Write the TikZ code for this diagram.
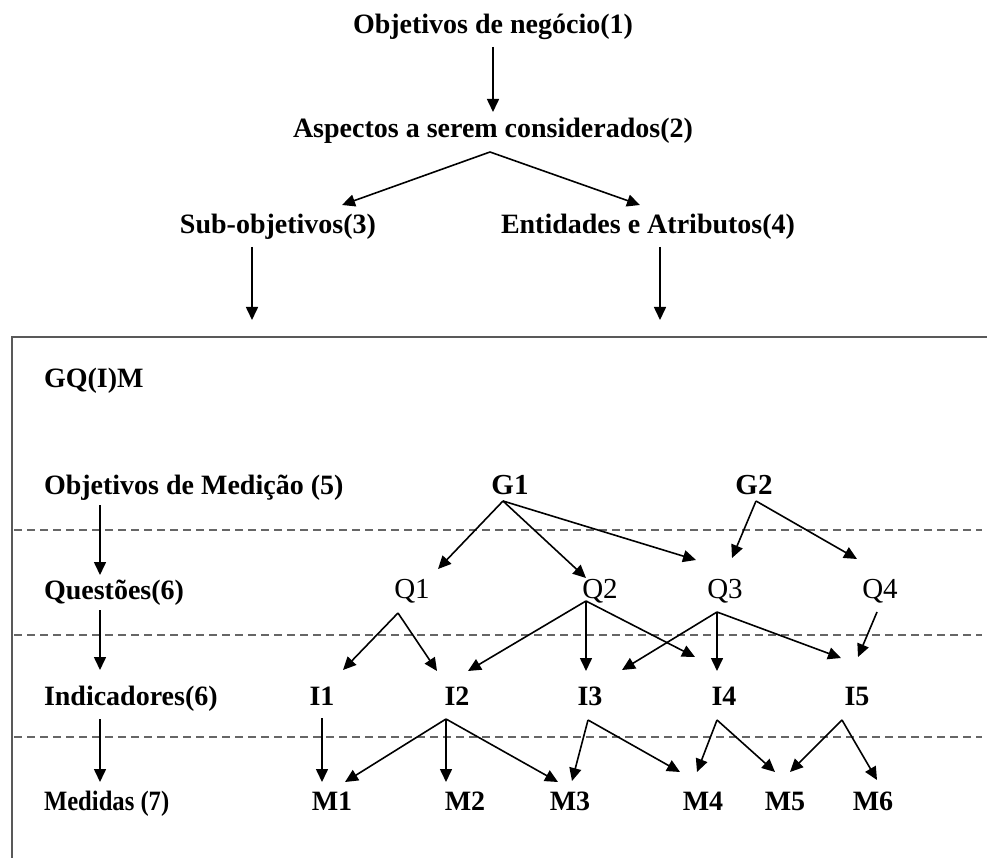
\documentclass[tikz,border=0pt]{standalone}
\usepackage{fontspec}
\setmainfont{Liberation Serif}
\usetikzlibrary{arrows.meta,calc}
\begin{document}
\begin{tikzpicture}[x=1pt,y=-1pt,
  txt/.style={inner sep=0pt, outer sep=0pt, font=\fontsize{28}{32}\selectfont\bfseries},
  hdr/.style={txt, anchor=base},
  lvl/.style={txt, anchor=base west},
  gnode/.style={txt, anchor=base, font=\fontsize{29}{32}\selectfont\bfseries},
  qnode/.style={txt, anchor=base, font=\fontsize{29}{32}\selectfont},
  inode/.style={txt, anchor=base},
  mnode/.style={txt, anchor=base},
  arr/.style={draw=black, line width=1.6pt, -{Triangle[length=13pt,width=12pt]}},
  sepline/.style={draw=black!60, line width=2.2pt, dash pattern=on 8pt off 5pt},
  frame/.style={draw=black!65, line width=2.2pt}
]
\useasboundingbox (0,0) rectangle (987,858);

% ---- upper part: business objectives ----
\node[hdr] (N1) at (493,34) {Objetivos de negócio(1)};
\node[hdr] (N2) at (493,138) {Aspectos a serem considerados(2)};
\node[hdr] (N3) at (278,234) {Sub-objetivos(3)};
\node[hdr] (N4) at (648,234) {Entidades e Atributos(4)};

\coordinate (N2v) at ($(N2.base)+(-3,14)$);
\draw[arr] ($(N1.base)+(0,13)$) -- ($(N2.base)+(0,-26)$);
\draw[arr] (N2v) -- ($(N3.base)+(64,-29)$);
\draw[arr] (N2v) -- ($(N4.base)+(-8,-29)$);
\coordinate (N3in) at ($(N3.base)+(-26,86)$);
\coordinate (N4in) at ($(N4.base)+(12,86)$);
\draw[arr] ($(N3.base)+(-26,13)$) -- (N3in);
\draw[arr] ($(N4.base)+(12,13)$) -- (N4in);

% ---- GQ(I)M frame ----
\coordinate (FTL) at (12,337);
\draw[frame] (987,337) -- (FTL) -- (12,858);
\node[lvl] (T) at (44,387) {GQ(I)M};

% level separators
\draw[sepline] (14,530) -- (982,530);
\draw[sepline] (14,635) -- (982,635);
\draw[sepline] (14,737) -- (982,737);

% level labels
\node[lvl] (L5) at (44,494) {Objetivos de Medição (5)};
\node[lvl] (L6) at (44,599) {Questões(6)};
\node[lvl] (L7) at (44,705) {Indicadores(6)};
\node[lvl] (L8) at (44,810) {\scalebox{0.88}[1]{Medidas (7)}};
\draw[arr] ($(L5.base west)+(56,11)$) -- ($(L6.base west)+(56,-24)$);
\draw[arr] ($(L6.base west)+(56,11)$) -- ($(L7.base west)+(56,-35)$);
\draw[arr] ($(L7.base west)+(56,14)$) -- ($(L8.base west)+(56,-28)$);

% goals
\node[gnode] (G1) at (510,494) {G1};
\node[gnode] (G2) at (754,494) {G2};
% questions
\node[qnode] (Q1) at (412,598) {Q1};
\node[qnode] (Q2) at (600,598) {Q2};
\node[qnode] (Q3) at (725,598) {Q3};
\node[qnode] (Q4) at (880,598) {Q4};
% indicators
\node[inode] (I1) at (322,705) {I1};
\node[inode] (I2) at (457,705) {I2};
\node[inode] (I3) at (590,705) {I3};
\node[inode] (I4) at (724,705) {I4};
\node[inode] (I5) at (857,705) {I5};
% measures
\node[mnode] (M1) at (332,810) {M1};
\node[mnode] (M2) at (465,810) {M2};
\node[mnode] (M3) at (570,810) {M3};
\node[mnode] (M4) at (703,810) {M4};
\node[mnode] (M5) at (785,810) {M5};
\node[mnode] (M6) at (873,810) {M6};

% branching points below each label
\coordinate (G1v) at ($(G1.base)+(-7,7)$);
\coordinate (G2v) at ($(G2.base)+(2,7)$);
\coordinate (Q1v) at ($(Q1.base)+(-14,15)$);
\coordinate (Q2v) at ($(Q2.base)+(-14,3)$);
\coordinate (Q3v) at ($(Q3.base)+(-8,14)$);
\coordinate (Q4v) at ($(Q4.base)+(-3,14)$);
\coordinate (I1v) at ($(I1.base)+(0,13)$);
\coordinate (I2v) at ($(I2.base)+(-11,14)$);
\coordinate (I3v) at ($(I3.base)+(-2,15)$);
\coordinate (I4v) at ($(I4.base)+(-7,15)$);
\coordinate (I5v) at ($(I5.base)+(-15,15)$);

% goals -> questions
\draw[arr] (G1v) -- ($(Q1.base)+(26,-29)$);
\draw[arr] (G1v) -- ($(Q2.base)+(-14,-20)$);
\draw[arr] (G1v) -- ($(Q3.base)+(-29,-38)$);
\draw[arr] (G2v) -- ($(Q3.base)+(7,-40)$);
\draw[arr] (G2v) -- ($(Q4.base)+(-23,-39)$);

% questions -> indicators
\draw[arr] (Q1v) -- ($(I1.base)+(21,-35)$);
\draw[arr] (Q1v) -- ($(I2.base)+(-20,-34)$);
\draw[arr] (Q2v) -- ($(I2.base)+(11,-34)$);
\draw[arr] (Q2v) -- ($(I3.base)+(-4,-34)$);
\draw[arr] (Q2v) -- ($(I4.base)+(-29,-48)$);
\draw[arr] (Q3v) -- ($(I3.base)+(32,-35)$);
\draw[arr] (Q3v) -- ($(I4.base)+(-7,-34)$);
\draw[arr] (Q3v) -- ($(I5.base)+(-16,-47)$);
\draw[arr] (Q4v) -- ($(I5.base)+(1,-48)$);

% indicators -> measures
\draw[arr] (I1v) -- ($(M1.base)+(-10,-28)$);
\draw[arr] (I2v) -- ($(M1.base)+(13,-28)$);
\draw[arr] (I2v) -- ($(M2.base)+(-19,-28)$);
\draw[arr] (I2v) -- ($(M3.base)+(-12,-28)$);
\draw[arr] (I3v) -- ($(M3.base)+(2,-29)$);
\draw[arr] (I3v) -- ($(M4.base)+(-23,-38)$);
\draw[arr] (I4v) -- ($(M4.base)+(-6,-38)$);
\draw[arr] (I4v) -- ($(M5.base)+(-10,-38)$);
\draw[arr] (I5v) -- ($(M5.base)+(5,-38)$);
\draw[arr] (I5v) -- ($(M6.base)+(4,-30)$);
\end{tikzpicture}
\end{document}
